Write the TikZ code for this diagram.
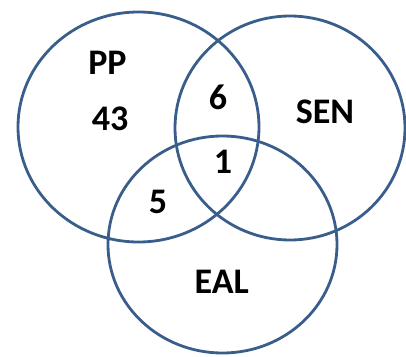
\documentclass[tikz,border=0pt]{standalone}
\usepackage{fontspec}
\setmainfont{Carlito}
\definecolor{ringblue}{RGB}{58,94,140}
\tikzset{
  setring/.style={draw=ringblue,line width=2.8pt},
  setlabel/.style={font=\fontsize{36}{42}\selectfont\bfseries,inner sep=0pt,
    text height=0.63em,text depth=0pt,anchor=center}
}
\begin{document}
\begin{tikzpicture}[x=1pt,y=-1pt]
	\useasboundingbox (0,0) rectangle (406,356);

	% the three sets
	\draw[setring] (138.5,127) ellipse [x radius=120.5pt, y radius=115pt];
	\draw[setring] (290,128) ellipse [x radius=115pt, y radius=112pt];
	\draw[setring] (222.5,244.5) ellipse [x radius=114.5pt, y radius=108.5pt];

	\node[setlabel] (pp) at (107.5,71.7) {PP};
	\node[setlabel] (sen) at (325,120) {SEN};
	\node[setlabel] (eal) at (221.7,290) {EAL};

	% counts
	\node[setlabel] (ppOnly) at (110,127.5) {43};
	\node[setlabel] (ppSen) at (218,106.7) {6};
	\node[setlabel] (ppSenEal) at (223,170.8) {1};
	\node[setlabel] (ppEal) at (158,210) {5};

\end{tikzpicture}
\end{document}
